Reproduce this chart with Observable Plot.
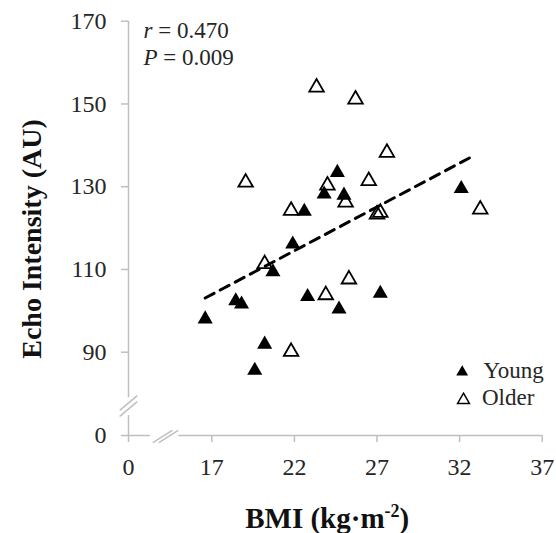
<!DOCTYPE html>
<html><head><meta charset="utf-8">
<script src="https://cdn.jsdelivr.net/npm/d3@7"></script>
<script src="https://cdn.jsdelivr.net/npm/@observablehq/plot@0.6"></script>
<style>html,body{margin:0;padding:0;background:#fff} svg text{font-family:'Liberation Serif','Times New Roman',serif}</style>
</head><body><div id="chart"></div>
<script>
// ---- data ----
const youngBMI = [16.6, 18.45, 18.8, 19.6, 20.2, 20.7, 21.9, 22.6, 22.8, 23.8, 24.6, 24.7, 25.0, 27.2, 32.1];
const youngEI  = [98.5, 102.9, 102.1, 86.1, 92.4, 109.9, 116.6, 124.5, 103.9, 128.7, 133.9, 100.9, 128.4, 104.7, 130.0];
const olderBMI = [19.05, 20.2, 21.8, 21.8, 23.34, 23.9, 24.0, 25.1, 25.3, 25.7, 26.5, 27.0, 27.2, 27.6, 33.25];
const olderEI  = [131.5, 111.8, 124.7, 90.6, 154.5, 104.3, 130.8, 126.7, 108.1, 151.6, 131.9, 123.8, 124.2, 138.7, 125.0];
const trendBMI = [16.6, 32.95];
const trendEI  = [103.1, 137.7];
const xTicks = [0, 17, 22, 27, 32, 37];
const yTicks = [0, 90, 110, 130, 150, 170];
const groups = ["Young", "Older"];
const stats = ["r = 0.470", "P = 0.009"];
const xTitle = "BMI (kg·m-2)";
const yTitle = "Echo Intensity (AU)";

const young = youngBMI.map((b, i) => ({bmi: b, ei: youngEI[i]}));
const older = olderBMI.map((b, i) => ({bmi: b, ei: olderEI[i]}));
const trend = trendBMI.map((b, i) => ({bmi: b, ei: trendEI[i]}));

const AX = "#bfbfbf";
const TXT = "#262626";
const OX = 128; // frame left
const XB = 14.2, YB = 77; // axis break positions
const lineShape = {draw(ctx, l) { ctx.moveTo(0, 0); ctx.lineTo(0, -l); }};

const chart = Plot.plot({
  width: 556, height: 533,
  marginLeft: OX, marginBottom: 98, marginTop: 0, marginRight: 0,
  style: {fontFamily: "'Liberation Serif', 'Times New Roman', serif", background: "#fff", color: "#000"},
  x: {type: "linear", domain: [0, XB, 37], range: [128, 165.05, 541.7]},
  y: {type: "linear", domain: [0, YB, 170], range: [435, 405.5, 20.7]},
  marks: [
    // broken axis lines
    Plot.ruleY([0], {x1: 0, x2: 8.4, stroke: AX, strokeWidth: 1.5}),
    Plot.ruleY([0], {x1: 15.0, x2: 37, stroke: AX, strokeWidth: 1.5}),
    Plot.ruleX([0], {y1: 0, y2: 52, stroke: AX, strokeWidth: 1.5}),
    Plot.ruleX([0], {y1: 79, y2: 170, stroke: AX, strokeWidth: 1.5}),
    // break marks
    Plot.vector([XB], {x: d => d, y: () => 0, length: 22, rotate: 58, anchor: "middle", shape: lineShape, stroke: AX, strokeWidth: 1.5, dx: -3, dy: 1}),
    Plot.vector([XB], {x: d => d, y: () => 0, length: 22, rotate: 58, anchor: "middle", shape: lineShape, stroke: AX, strokeWidth: 1.5, dx: 3, dy: 1}),
    Plot.vector([YB], {x: () => 0, y: d => d, length: 22, rotate: 50, anchor: "middle", shape: lineShape, stroke: AX, strokeWidth: 1.5, dy: -3}),
    Plot.vector([YB], {x: () => 0, y: d => d, length: 22, rotate: 50, anchor: "middle", shape: lineShape, stroke: AX, strokeWidth: 1.5, dy: 3}),
    Plot.axisX({ticks: xTicks, tickFormat: d => String(d), tickSize: 7, tickPadding: 15, fontSize: 24, stroke: AX, strokeWidth: 1.5, fill: TXT, label: null}),
    Plot.axisY({ticks: yTicks, tickFormat: d => String(d), tickSize: 7, tickPadding: 15, fontSize: 24, stroke: AX, strokeWidth: 1.5, fill: TXT, label: null}),
    // trend line
    Plot.line(trend, {x: "bmi", y: "ei", stroke: "#000", strokeWidth: 3, strokeDasharray: "10,7"}),
    // points
    Plot.dot(young, {x: "bmi", y: "ei", symbol: "triangle", r: 5.6, fill: "#000", stroke: "none", dy: 2}),
    Plot.dot(older, {x: "bmi", y: "ei", symbol: "triangle", r: 5.4, fill: "none", stroke: "#000", strokeWidth: 1.8, dy: 2}),
    // stats annotation
    Plot.text([stats[0]], {text: d => d, frameAnchor: "top-left", dx: 143 - OX, dy: 30.6, textAnchor: "start", lineAnchor: "middle", fontSize: 23, fill: TXT}),
    Plot.text([stats[1]], {text: d => d, frameAnchor: "top-left", dx: 143 - OX, dy: 57.6, textAnchor: "start", lineAnchor: "middle", fontSize: 23, fill: TXT}),
    // legend
    Plot.dot([groups[0]], {frameAnchor: "top-left", dx: 461.7 - OX, dy: 371.5, symbol: "triangle", r: 4.4, fill: "#000", stroke: "none"}),
    Plot.dot([groups[1]], {frameAnchor: "top-left", dx: 463 - OX, dy: 399.5, symbol: "triangle", r: 4.4, fill: "none", stroke: "#000", strokeWidth: 1.5}),
    Plot.text([groups[0]], {text: d => d, frameAnchor: "top-left", dx: 483 - OX, dy: 370.6, textAnchor: "start", lineAnchor: "middle", fontSize: 23, fill: TXT}),
    Plot.text([groups[1]], {text: d => d, frameAnchor: "top-left", dx: 481.5 - OX, dy: 397.6, textAnchor: "start", lineAnchor: "middle", fontSize: 23, fill: TXT}),
    // axis titles
    Plot.text([yTitle], {text: d => d, frameAnchor: "top-left", dx: 32 - OX, dy: 238.5, rotate: -90, textAnchor: "middle", lineAnchor: "middle", fontSize: 28, fontWeight: "bold", fill: "#111"}),
    Plot.text([xTitle], {text: d => d, frameAnchor: "top-left", dx: 326.7 - OX, dy: 518.7, textAnchor: "middle", lineAnchor: "middle", fontSize: 29, fontWeight: "bold", fill: "#111"})
  ]
});
document.getElementById("chart").appendChild(chart);

// rich text: italic statistic symbols, superscript exponent
d3.select(chart).selectAll("text").each(function() {
  const t = this.textContent;
  const sel = d3.select(this);
  if (t === stats[0] || t === stats[1]) {
    sel.text(null);
    sel.append("tspan").attr("font-style", "italic").text(t.slice(0, 1));
    sel.append("tspan").text(t.slice(1));
  } else if (t === xTitle) {
    sel.text(null);
    sel.append("tspan").text("BMI (kg·m");
    sel.append("tspan").attr("font-size", 18).attr("dy", -11).text("-2");
    sel.append("tspan").attr("dy", 11).text(")");
  }
});
</script>
</body></html>
